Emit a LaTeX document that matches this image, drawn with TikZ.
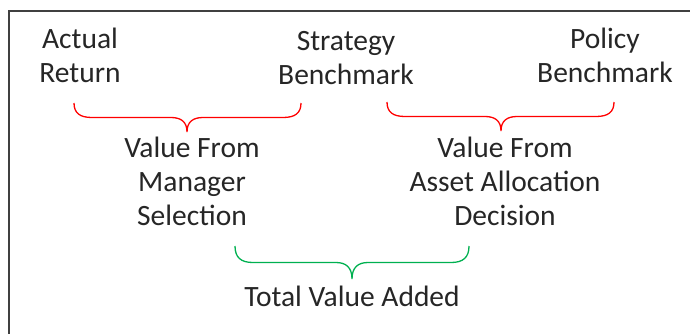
\documentclass[tikz,border=0pt]{standalone}
\usepackage{fontspec}
\setmainfont{Carlito}
\definecolor{txt}{HTML}{262626}
\definecolor{bred}{HTML}{FF0000}
\definecolor{bgreen}{HTML}{00B050}
\definecolor{framec}{HTML}{404040}
% style, left x, right x, top y, tip x, depth
\newcommand\mybrace[6]{%
  \draw[#1] (#2,#4) .. controls (#2,#4+0.35*#6) and (#2+6,#4+0.5*#6) .. (#2+18,#4+0.5*#6)
    -- (#5-16,#4+0.5*#6) .. controls (#5-6,#4+0.5*#6) and (#5,#4+0.65*#6) .. (#5,#4+#6)
    .. controls (#5,#4+0.65*#6) and (#5+6,#4+0.5*#6) .. (#5+16,#4+0.5*#6)
    -- (#3-18,#4+0.5*#6) .. controls (#3-6,#4+0.5*#6) and (#3,#4+0.35*#6) .. (#3,#4);}
\begin{document}
\begin{tikzpicture}[x=1pt,y=-1pt,
  lbl/.style={text=txt, align=center, inner sep=0pt, anchor=base,
    font=\fontsize{29.5}{34}\selectfont},
  redbrace/.style={draw=bred, line width=1.3pt},
  greenbrace/.style={draw=bgreen, line width=1.3pt},
  frameline/.style={draw=framec, line width=1.5pt}]
\useasboundingbox (0,0) rectangle (690,333);
\draw[frameline] (9,340) -- (9,11) -- (700,11);
\node[lbl] (actual) at (80,82) {Actual\\Return};
\node[lbl] (strategy) at (346,84) {Strategy\\Benchmark};
\node[lbl] (policy) at (605,82) {Policy\\Benchmark};
\node[lbl] (vms) at (192,225) {Value From\\Manager\\Selection};
\node[lbl] (vaa) at (505,225) {Value From\\Asset Allocation\\Decision};
\node[lbl] (tva) at (352,306) {Total Value Added};
\mybrace{redbrace}{74}{301}{103}{187}{29}
\mybrace{redbrace}{387}{614}{102}{501}{29}
\mybrace{greenbrace}{235}{469}{246}{352}{33}
\end{tikzpicture}
\end{document}
